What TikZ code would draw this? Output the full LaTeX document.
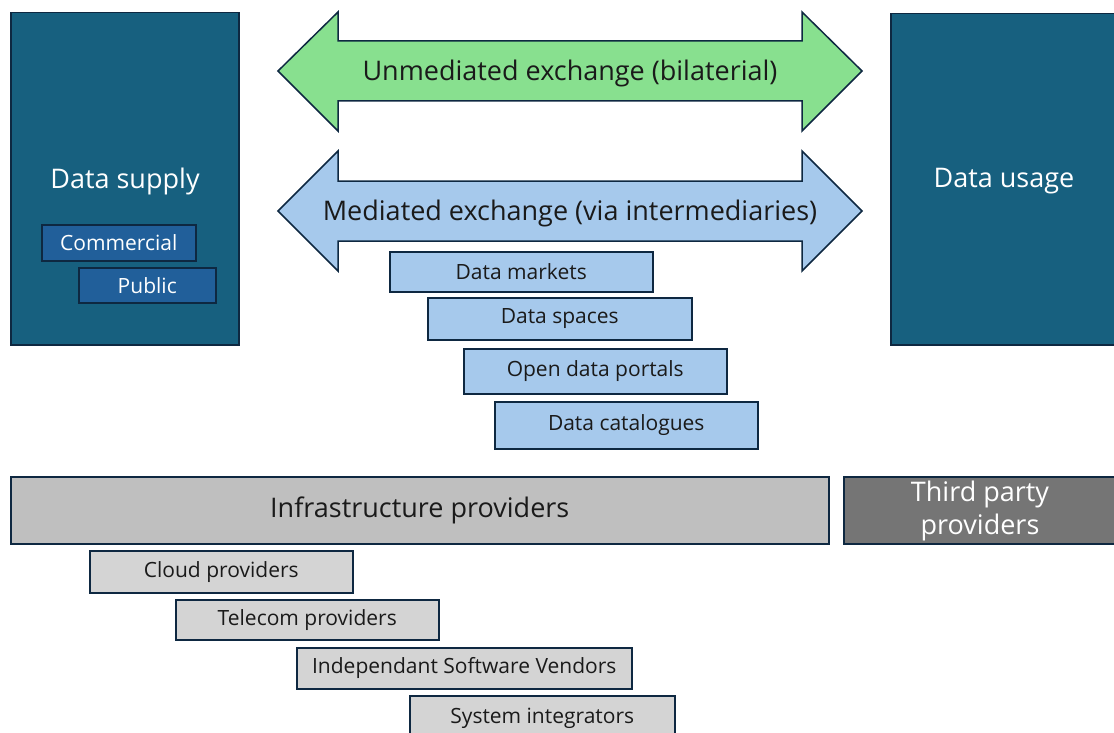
\documentclass[tikz,border=0pt]{standalone}
\usepackage{fontspec}
\setmainfont{Open Sans}
\usetikzlibrary{positioning}

\definecolor{supplyblue}{HTML}{17607F}
\definecolor{tagblue}{HTML}{215F9A}
\definecolor{edgeblue}{HTML}{0E2841}
\definecolor{unmedgreen}{HTML}{88E08F}
\definecolor{medblue}{HTML}{A6C9EC}
\definecolor{infragray}{HTML}{BFBFBF}
\definecolor{subgray}{HTML}{D4D4D4}
\definecolor{thirdgray}{HTML}{757575}
\definecolor{inktext}{HTML}{1A1A1A}

\begin{document}
\begin{tikzpicture}[x=1pt, y=-1pt,
    box/.style={draw=edgeblue, line width=1.5pt, inner sep=0pt, anchor=north west},
    arrowedge/.style={draw=edgeblue, line width=1.5pt, line join=miter},
    big/.style={font=\fontsize{27}{33}\selectfont, text=inktext, align=center},
    small/.style={font=\fontsize{21}{24}\selectfont, text=inktext}
  ]
    \useasboundingbox (0, 0) rectangle (1114, 733);

    % supply and usage
    \node [box, fill=supplyblue, minimum width=228pt, minimum height=332pt] (supply) at (10, 12) {};
    \node [big, text=white] (supplytext) at (125, 181) {Data supply};
    \node [box, fill=tagblue, minimum width=154pt, minimum height=36pt] (commercial) at (41, 224) {};
    \node [small, text=white] (commercialtext) at (commercial.center) {Commercial};
    \node [box, fill=tagblue, minimum width=137pt, minimum height=35pt] (public) at (78, 267) {};
    \node [small, text=white] (publictext) at (public.center) {Public};

    \node [box, fill=supplyblue, minimum width=240pt, minimum height=331pt] (usage) at (890, 13) {};
    \node [big, text=white] (usagetext) at (1004, 181) {Data usage};

    % exchange arrows
    \draw [arrowedge, fill=unmedgreen]
      (278, 71) -- (338, 12) -- (338, 41) -- (802, 41) -- (802, 12)
      -- (862, 71) -- (802, 131) -- (802, 101) -- (338, 101) -- (338, 131) -- cycle;
    \node [big] (unmediated) at (570, 73) {Unmediated exchange (bilaterial)};

    \draw [arrowedge, fill=medblue]
      (278, 211) -- (338, 151) -- (338, 181) -- (802, 181) -- (802, 151)
      -- (862, 211) -- (802, 271) -- (802, 241) -- (338, 241) -- (338, 271) -- cycle;
    \node [big] (mediated) at (570, 213) {Mediated exchange (via intermediaries)};

    % intermediaries
    \node [box, fill=medblue, minimum width=263pt, minimum height=40pt, small] (markets) at (389, 251) {Data markets};
    \node [box, fill=medblue, minimum width=264pt, minimum height=42pt, small] (spaces) at (427, 297) {Data spaces};
    \node [box, fill=medblue, minimum width=263pt, minimum height=45pt, small] (portals) at (463, 348) {Open data portals};
    \node [box, fill=medblue, minimum width=263pt, minimum height=47pt, small] (catalogues) at (494, 401) {Data catalogues};

    % providers
    \node [box, fill=infragray, minimum width=818pt, minimum height=67pt, big] (infra) at (10, 476) {Infrastructure providers};
    \node [box, fill=thirdgray, minimum width=280pt, minimum height=67pt] (third) at (843, 476) {};
    \node [big, text=white] (thirdtext) at (980, 511) {Third party\\providers};

    \node [box, fill=subgray, minimum width=263pt, minimum height=42pt, small] (cloud) at (89, 550) {Cloud providers};
    \node [box, fill=subgray, minimum width=263pt, minimum height=40pt, small] (telecom) at (175, 599) {Telecom providers};
    \node [box, fill=subgray, minimum width=335pt, minimum height=41pt, small] (isv) at (296, 647) {Independant Software Vendors};
    \node [box, fill=subgray, minimum width=265pt, minimum height=45pt, small] (integrators) at (409, 695) {System integrators};
\end{tikzpicture}
\end{document}
